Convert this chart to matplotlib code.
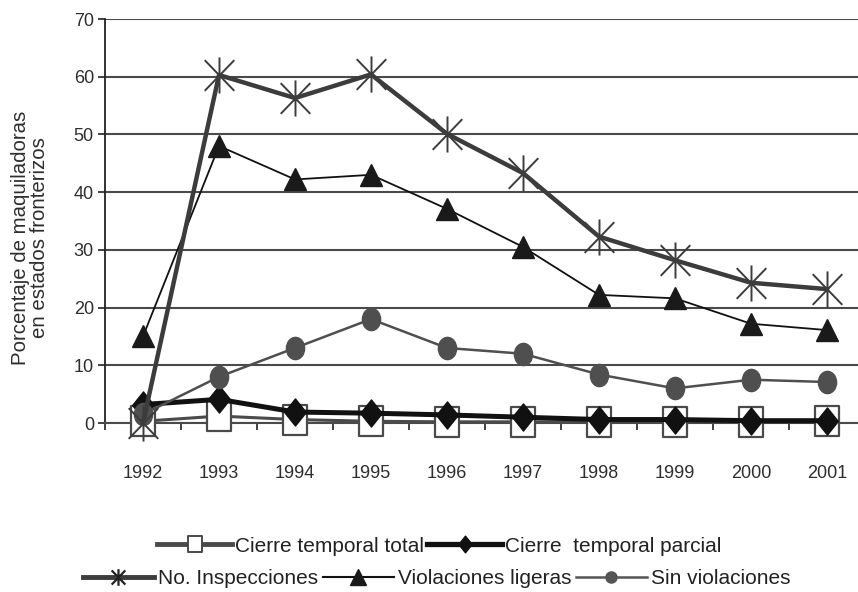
import matplotlib
matplotlib.use('Agg')
import matplotlib.pyplot as plt
import numpy as np
from matplotlib.path import Path
from matplotlib.transforms import Affine2D
from matplotlib.lines import Line2D

plt.rcParams['font.family'] = ['Liberation Sans', 'DejaVu Sans']

# Data
years = ['1992', '1993', '1994', '1995', '1996', '1997', '1998', '1999', '2000', '2001']
cierre_total = [0.3, 1.2, 0.6, 0.3, 0.2, 0.2, 0.2, 0.2, 0.1, 0.4]
cierre_parcial = [3.2, 4.1, 1.9, 1.7, 1.4, 1.0, 0.6, 0.6, 0.4, 0.4]
inspecciones = [0.0, 60.3, 56.3, 60.4, 50.1, 43.3, 32.3, 28.2, 24.3, 23.2]
ligeras = [15.0, 48.0, 42.2, 43.0, 37.1, 30.5, 22.2, 21.6, 17.2, 16.1]
sin_viol = [1.5, 8.0, 13.0, 18.0, 13.0, 12.0, 8.4, 6.0, 7.5, 7.1]

# custom marker shapes
aster = Path([(0, -1), (0, 1), (-0.82, -0.85), (0.82, 0.85), (-0.82, 0.85), (0.82, -0.85)],
             [Path.MOVETO, Path.LINETO, Path.MOVETO, Path.LINETO, Path.MOVETO, Path.LINETO])
diamond = Path([(0, 1), (0.8, 0), (0, -1), (-0.8, 0), (0, 1)],
               [Path.MOVETO, Path.LINETO, Path.LINETO, Path.LINETO, Path.CLOSEPOLY])
rect = Path([(-0.85, -1), (0.85, -1), (0.85, 1), (-0.85, 1), (-0.85, -1)],
            [Path.MOVETO, Path.LINETO, Path.LINETO, Path.LINETO, Path.CLOSEPOLY])
ellipse = Path.unit_circle().transformed(Affine2D().scale(0.82, 1.0))

fig = plt.figure(figsize=(8.58, 5.92), dpi=100)
ax = fig.add_axes([105 / 858, 1 - 423 / 592, 760 / 858, 404 / 592])

x = np.arange(len(years))

ax.plot(x, cierre_total, color='#4a4a4a', lw=2.2, marker=rect, ms=21, mfc='white',
        mec='#4a4a4a', mew=1.6, zorder=3, clip_on=False)
ax.plot(x, cierre_parcial, color='#111111', lw=3.6, marker=diamond, ms=19.5, mfc='#111111',
        mec='#111111', zorder=4, clip_on=False)
ax.plot(x, sin_viol, color='#4f4f4f', lw=1.8, marker=ellipse, ms=16, mfc='#4f4f4f',
        mec='#4f4f4f', zorder=5, clip_on=False)
ax.plot(x, ligeras, color='#111111', lw=1.3, marker='^', ms=16, mfc='#1a1a1a',
        mec='#1a1a1a', zorder=5, clip_on=False)
ax.plot(x, inspecciones, color='#3c3c3c', lw=3.2, marker=aster, ms=26, mfc='none',
        mec='#3c3c3c', mew=1.4, zorder=6, clip_on=False)

ax.set_xlim(-0.5, 9.5)
ax.set_ylim(0, 70)
ax.set_yticks(range(0, 80, 10))
ax.set_xticks(x)
ax.set_xticklabels(years)
ax.set_xticks(np.arange(-0.5, 9.5, 1), minor=True)
ax.tick_params(axis='x', which='major', length=0, pad=30, labelsize=13, labelcolor='#2e2e2e')
ax.tick_params(axis='x', which='minor', length=5, width=1.3, color='#333333', direction='out')
ax.tick_params(axis='y', length=5, width=1.3, color='#333333', pad=3, labelsize=13,
               labelcolor='#2e2e2e')

ax.yaxis.grid(True, color='#4a4a4a', lw=1.5)
ax.set_axisbelow(True)
for s in ['top', 'right']:
    ax.spines[s].set_visible(False)
ax.spines['left'].set_color('#222222')
ax.spines['left'].set_linewidth(1.3)
ax.spines['bottom'].set_color('#4a4a4a')
ax.spines['bottom'].set_linewidth(1.5)

fig.text(30 / 858, 1 - 238 / 592, 'Porcentaje de maquiladoras\nen estados fronterizos',
         rotation=90, ha='center', va='center', multialignment='center', fontsize=14.7,
         color='#2e2e2e', linespacing=1.0)

# legends
h_total = Line2D([], [], color='#4a4a4a', lw=3.5, marker=rect, ms=12, mfc='white', mec='#4a4a4a', mew=1.4)
h_parcial = Line2D([], [], color='#111111', lw=3.8, marker=diamond, ms=12, mfc='#111111', mec='#111111')
h_insp = Line2D([], [], color='#3c3c3c', lw=3.5, marker=aster, ms=12, mfc='none', mec='#222222', mew=1.6)
h_lig = Line2D([], [], color='#111111', lw=1.5, marker='^', ms=11, mfc='#1a1a1a', mec='#1a1a1a')
h_sin = Line2D([], [], color='#555555', lw=1.8, marker='o', ms=8, mfc='#555555', mec='#555555')

leg1 = fig.legend([h_total, h_parcial], ['Cierre temporal total', 'Cierre  temporal parcial'],
                  loc='center left', bbox_to_anchor=(157 / 858, 1 - 546 / 592), ncol=2,
                  frameon=False, fontsize=15, handlelength=3.6, handletextpad=0.15,
                  columnspacing=0.15, borderpad=0, borderaxespad=0, labelcolor='#222222')
leg2 = fig.legend([h_insp, h_lig, h_sin], ['No. Inspecciones', 'Violaciones ligeras', 'Sin violaciones'],
                  loc='center left', bbox_to_anchor=(83 / 858, 1 - 579 / 592), ncol=3,
                  frameon=False, fontsize=15, handlelength=3.4, handletextpad=0.2,
                  columnspacing=0.22, borderpad=0, borderaxespad=0, labelcolor='#222222')

fig.savefig('out.png', dpi=100)
